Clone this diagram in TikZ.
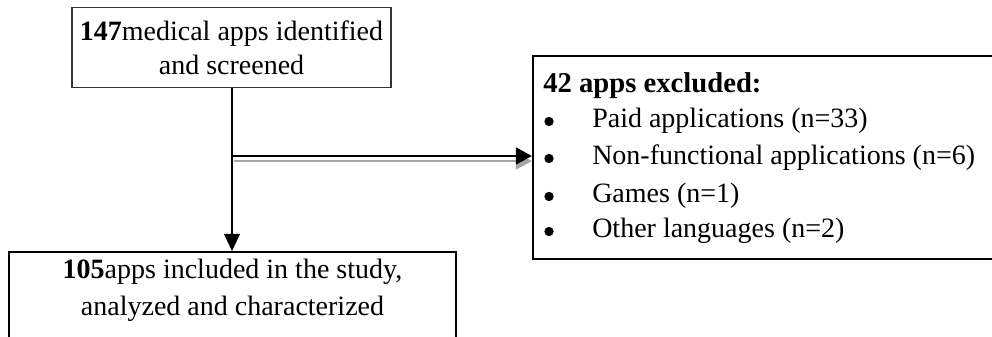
\documentclass[tikz,border=0pt]{standalone}
\usepackage{fontspec}
\setmainfont{Liberation Serif}
\usetikzlibrary{arrows.meta}
\tikzset{
  txt/.style={anchor=base, inner sep=0pt, font=\fontsize{21}{27}\selectfont},
  txtw/.style={anchor=base west, inner sep=0pt, font=\fontsize{21}{27}\selectfont},
  dot/.style={circle, fill=black, inner sep=0pt, minimum size=7pt},
  conn/.style={line width=2pt, -{Triangle[length=13pt,width=11.5pt]}},
  shadowline/.style={line width=1.6pt, draw=black!35, -{Triangle[length=12pt,width=12.5pt,fill=black!35]}}
}
\begin{document}
\begin{tikzpicture}[x=0.75pt,y=-0.75pt]
\useasboundingbox (0,0) rectangle (992,336);
% boxes
\node[draw=black!80, line width=0.8pt, minimum width=239.25pt, minimum height=60pt, inner sep=0pt] (top) at (231.5,47.5) {};
\node[draw=black, line width=1.1pt, minimum width=335.25pt, minimum height=69.75pt, inner sep=0pt] (bot) at (232.5,298.5) {};
\node[draw=black, line width=1.6pt, minimum width=350.25pt, minimum height=152.25pt, inner sep=0pt] (excl) at (766.5,157.5) {};
% texts
\node[txt] (t1) at (231.5,40) {\textbf{147}medical apps identified};
\node[txt] (t2) at (231.5,74) {and screened};
\node[txt] (b1) at (232.5,278) {\textbf{105}apps included in the study,};
\node[txt] (b2) at (232.5,315) {analyzed and characterized};
\node[txtw, font=\fontsize{21.5}{27}\selectfont] (h) at (543,92) {\textbf{42 apps excluded:}};
\node[dot] (d1) at (549,121.5) {};
\node[dot] (d2) at (549,158.5) {};
\node[dot] (d3) at (549,196.5) {};
\node[dot] (d4) at (549,231.5) {};
\node[txtw] (e1) at (592,127) {Paid applications (n=33)};
\node[txtw] (e2) at (592,164) {Non-functional applications (n=6)};
\node[txtw] (e3) at (592,202) {Games (n=1)};
\node[txtw] (e4) at (592,237) {Other languages (n=2)};
% connectors
\coordinate (j) at (232,156);
\draw[shadowline] ([yshift=-3.8pt,xshift=1.5pt]j) -- ([yshift=-3.8pt]j -| excl.west);
\draw[line width=2pt, -{Triangle[length=12pt,width=12.5pt]}] (j) -- (j -| excl.west);
\draw[conn] (top.south -| j) -- (bot.north -| j);
\end{tikzpicture}
\end{document}
